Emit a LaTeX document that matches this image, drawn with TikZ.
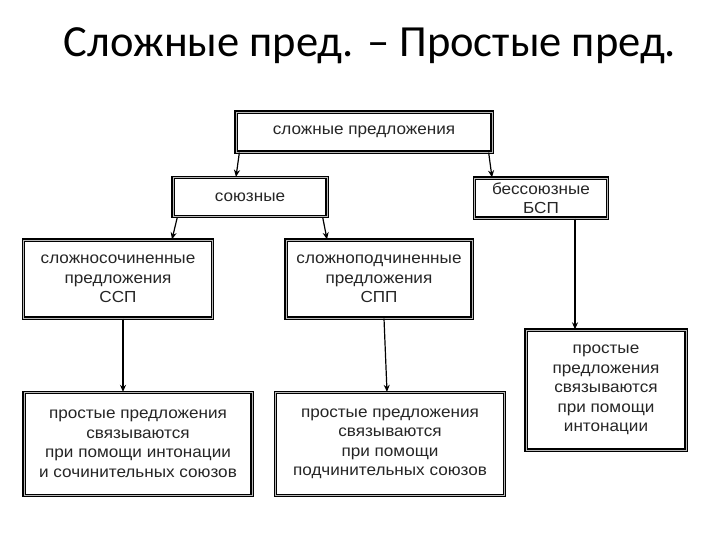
\documentclass[tikz,border=0pt]{standalone}
\usepackage{fontspec}
\setmainfont[FakeStretch=1.07]{Liberation Sans}
\newfontfamily\titlefont{Carlito}
\usetikzlibrary{arrows.meta}
\begin{document}
\begin{tikzpicture}[x=1pt,y=-1pt,
  box/.style={draw=black, line width=1.3pt, double=gray!55, double distance=0.9pt, fill=white,
    align=center, inner sep=0pt, font=\fontsize{16}{19.5}\selectfont, text=black!85},
  conn/.style={draw=black, line width=1.2pt, -{Stealth[length=7pt,width=6pt]}}]
\useasboundingbox[fill=white] (0,0) rectangle (720,540);
\node[font=\fontsize{44.5}{48}\selectfont\titlefont] (title) at (370,46) {Сложные пред. – Простые пред.};
\node[box, minimum width=256, minimum height=40] (b1) at (364,132) {сложные предложения};
\node[box, minimum width=154, minimum height=39] (b2) at (250,197) {союзные};
\node[box, minimum width=133, minimum height=40] (b3) at (541,198) {бессоюзные\\БСП};
\node[box, minimum width=189, minimum height=78] (b4) at (118,279) {сложносочиненные\\предложения\\ССП};
\node[box, minimum width=186, minimum height=78] (b5) at (379,279) {сложноподчиненные\\предложения\\СПП};
\node[box, minimum width=160, minimum height=120] (b6) at (606,390) {простые\\предложения\\связываются\\при помощи\\интонации};
\node[box, minimum width=228, minimum height=103] (b7) at (138,444) {простые предложения\\связываются\\при помощи интонации\\и сочинительных союзов};
\node[box, minimum width=229, minimum height=103] (b8) at (390,444) {простые предложения\\связываются\\при помощи\\подчинительных союзов};
\draw[conn] ([xshift=4pt]b1.south west) -- ([xshift=-14pt]b2.north);
\draw[conn] ([xshift=-4pt]b1.south east) -- ([xshift=-49pt]b3.north);
\draw[conn] ([xshift=5pt]b2.south west) -- ([xshift=54pt]b4.north);
\draw[conn] ([xshift=-5pt]b2.south east) -- ([xshift=-52pt]b5.north);
\draw[conn] ([xshift=5pt]b4.south) -- ([xshift=-15pt]b7.north);
\draw[conn] ([xshift=5pt]b5.south) -- ([xshift=-3pt]b8.north);
\draw[conn] ([xshift=34pt]b3.south) -- ([xshift=-31pt]b6.north);
\end{tikzpicture}
\end{document}
